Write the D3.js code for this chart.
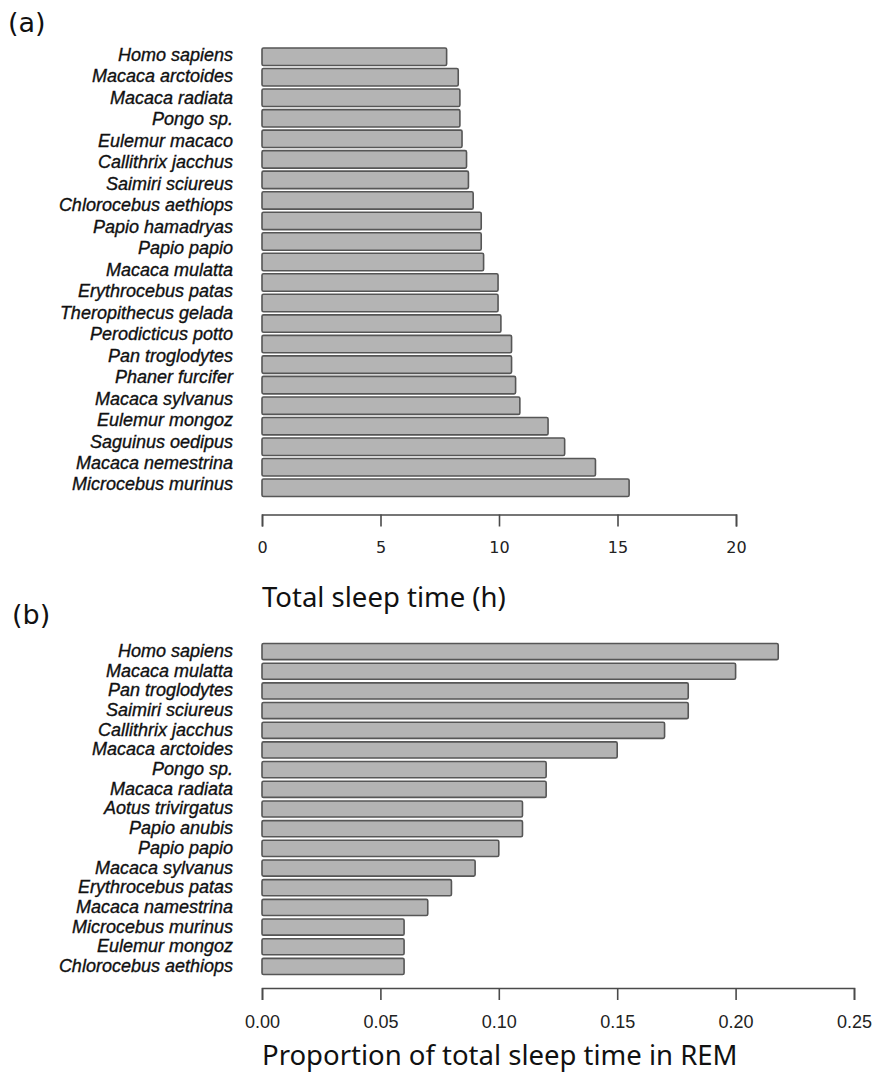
<!DOCTYPE html>
<html>
<head>
<meta charset="utf-8">
<script src="https://cdn.jsdelivr.net/npm/d3@7"></script>
<style>
  html, body { margin: 0; padding: 0; background: #fff; }
  svg { display: block; }
</style>
</head>
<body>
<svg id="chart" width="875" height="1075"></svg>
<script>
// Panel (a): total sleep time per species (hours).
// 22 bars are plotted; the 21 species names are set as their own column over the same span.
const sleepSpecies = [
  "Homo sapiens", "Macaca arctoides", "Macaca radiata", "Pongo sp.", "Eulemur macaco",
  "Callithrix jacchus", "Saimiri sciureus", "Chlorocebus aethiops", "Papio hamadryas",
  "Papio papio", "Macaca mulatta", "Erythrocebus patas", "Theropithecus gelada",
  "Perodicticus potto", "Pan troglodytes", "Phaner furcifer", "Macaca sylvanus",
  "Eulemur mongoz", "Saguinus oedipus", "Macaca nemestrina", "Microcebus murinus"
];
const sleepHours = [
  7.79, 8.28, 8.35, 8.35, 8.44, 8.63, 8.71, 8.91, 9.25, 9.25, 9.35,
  9.96, 9.96, 10.08, 10.53, 10.53, 10.70, 10.88, 12.07, 12.77, 14.07, 15.49
];
const sleepTicks = [0, 5, 10, 15, 20];

// Panel (b): proportion of total sleep time spent in REM.
const remSpecies = [
  "Homo sapiens", "Macaca mulatta", "Pan troglodytes", "Saimiri sciureus",
  "Callithrix jacchus", "Macaca arctoides", "Pongo sp.", "Macaca radiata",
  "Aotus trivirgatus", "Papio anubis", "Papio papio", "Macaca sylvanus",
  "Erythrocebus patas", "Macaca namestrina", "Microcebus murinus",
  "Eulemur mongoz", "Chlorocebus aethiops"
];
const remProportion = [
  0.218, 0.20, 0.18, 0.18, 0.17, 0.15, 0.12, 0.12, 0.11,
  0.11, 0.10, 0.09, 0.08, 0.07, 0.06, 0.06, 0.06
];
const remTicks = [0, 0.05, 0.10, 0.15, 0.20, 0.25];

const svg = d3.select("#chart");

const BAR_FILL = "#b4b4b4";
const BAR_STROKE = "#565656";
const LABEL_FONT = "'Liberation Sans', Arial, sans-serif";
const PANEL_FONT = "'DejaVu Sans', sans-serif";
const TITLE_FONT = "'Noto Sans', 'Open Sans', sans-serif";

function drawBars(g, values, x, y) {
  g.selectAll("rect")
    .data(values)
    .join("rect")
    .attr("x", x(0))
    .attr("y", (d, i) => y(i))
    .attr("width", d => x(d) - x(0))
    .attr("height", y.bandwidth())
    .attr("rx", 1.5)
    .attr("fill", BAR_FILL)
    .attr("stroke", BAR_STROKE)
    .attr("stroke-width", 1.6);
}

function drawNames(g, names, yPos) {
  g.selectAll("text")
    .data(names)
    .join("text")
    .attr("x", 233)
    .attr("y", (d, i) => yPos(i))
    .attr("dy", "0.36em")
    .attr("text-anchor", "end")
    .attr("font-family", LABEL_FONT)
    .attr("font-style", "italic")
    .attr("font-size", 18)
    .attr("fill", "#111")
    .attr("stroke", "#111")
    .attr("stroke-width", 0.35)
    .text(d => d);
}

function drawAxis(g, x, ticks, fmt, labelFont, labelSize, labelDy) {
  const axis = d3.axisBottom(x)
    .tickValues(ticks)
    .tickFormat(fmt)
    .tickSize(12)
    .tickSizeOuter(12)
    .tickPadding(labelDy);
  g.call(axis);
  g.select(".domain").attr("stroke", "#4a4a4a").attr("stroke-width", 1.6);
  g.selectAll(".tick line").attr("stroke", "#4a4a4a").attr("stroke-width", 1.6);
  g.selectAll(".tick text")
    .attr("font-family", labelFont)
    .attr("font-size", labelSize)
    .attr("fill", "#222");
}

// ---------- Panel (a) ----------
const xSleep = d3.scaleLinear().domain([0, 20]).range([262, 736]);
const ySleep = d3.scaleBand()
  .domain(d3.range(sleepHours.length))
  .range([48, 496.5])
  .paddingInner(0.15)
  .paddingOuter(0);
const ySleepNames = d3.scalePoint()
  .domain(d3.range(sleepSpecies.length))
  .range([54.5, 484]);

svg.append("text")
  .attr("x", 8).attr("y", 32)
  .attr("font-family", PANEL_FONT)
  .attr("font-size", 27)
  .attr("fill", "#111")
  .text("(a)");

drawBars(svg.append("g"), sleepHours, xSleep, ySleep);
drawNames(svg.append("g"), sleepSpecies, ySleepNames);

const axA = svg.append("g").attr("transform", "translate(0,514.5)");
drawAxis(axA, xSleep, sleepTicks, d3.format("d"), PANEL_FONT, 16, 15);

svg.append("text")
  .attr("x", 262).attr("y", 607)
  .attr("font-family", TITLE_FONT)
  .attr("font-size", 27.5)
  .attr("fill", "#111")
  .text("Total sleep time (h)");

// ---------- Panel (b) ----------
const xRem = d3.scaleLinear().domain([0, 0.25]).range([262, 854]);
const yRem = d3.scaleBand()
  .domain(d3.range(remProportion.length))
  .range([643.5, 974.5])
  .paddingInner(0.18)
  .paddingOuter(0);
const yRemNames = i => yRem(i) + yRem.bandwidth() / 2 - 1;

svg.append("text")
  .attr("x", 12).attr("y", 624)
  .attr("font-family", PANEL_FONT)
  .attr("font-size", 27)
  .attr("fill", "#111")
  .text("(b)");

drawBars(svg.append("g"), remProportion, xRem, yRem);
drawNames(svg.append("g"), remSpecies, yRemNames);

const axB = svg.append("g").attr("transform", "translate(0,988)");
drawAxis(axB, xRem, remTicks, d3.format(".2f"), LABEL_FONT, 18, 15);

svg.append("text")
  .attr("x", 262).attr("y", 1065)
  .attr("font-family", TITLE_FONT)
  .attr("font-size", 27.5)
  .attr("fill", "#111")
  .text("Proportion of total sleep time in REM");
</script>
</body>
</html>
